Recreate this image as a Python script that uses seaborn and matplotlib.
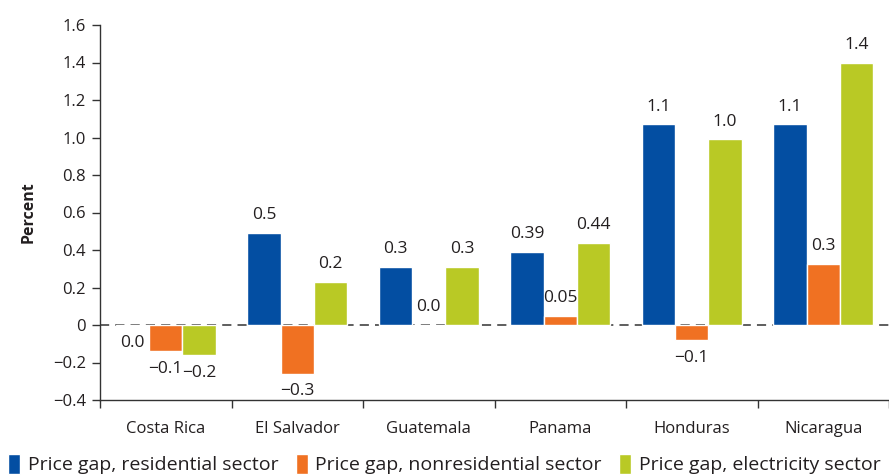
import matplotlib
matplotlib.use("Agg")
import matplotlib.pyplot as plt
import seaborn as sns
import pandas as pd
from matplotlib.ticker import FixedLocator, NullFormatter

countries = ["Costa Rica", "El Salvador", "Guatemala", "Panama", "Honduras", "Nicaragua"]
series_names = ["Price gap, residential sector", "Price gap, nonresidential sector",
                "Price gap, electricity sector"]
residential = [-0.003, 0.49, 0.31, 0.39, 1.07, 1.07]
nonresidential = [-0.14, -0.26, 0.0, 0.05, -0.08, 0.325]
electricity = [-0.16, 0.23, 0.31, 0.44, 0.99, 1.40]
res_labels = ["0.0", "0.5", "0.3", "0.39", "1.1", "1.1"]
nonres_labels = ["\u22120.1", "\u22120.3", "0.0", "0.05", "\u22120.1", "0.3"]
elec_labels = ["\u22120.2", "0.2", "0.3", "0.44", "1.0", "1.4"]
yticks = [-0.4, -0.2, 0, 0.2, 0.4, 0.6, 0.8, 1.0, 1.2, 1.4, 1.6]
ytick_labels = ["\u22120.4", "\u22120.2", "0", "0.2", "0.4", "0.6", "0.8", "1.0", "1.2", "1.4", "1.6"]
colors = ["#034EA2", "#F07122", "#B9C925"]

df = pd.DataFrame({
    "Country": countries * 3,
    "Series": [series_names[0]] * 6 + [series_names[1]] * 6 + [series_names[2]] * 6,
    "Value": residential + nonresidential + electricity,
})

sns.set_style("white")
plt.rcParams["font.family"] = ["Open Sans", "DejaVu Sans"]
text_color = "#231F20"

fig = plt.figure(figsize=(8.89, 4.76), dpi=100)
ax = fig.add_axes([100 / 889, 76 / 476, 789 / 889, 375 / 476])

sns.barplot(data=df, x="Country", y="Value", hue="Series", order=countries,
            hue_order=series_names, palette=colors, width=0.76, saturation=1,
            errorbar=None, ax=ax, legend=True)

for cont, labs in zip(ax.containers, [res_labels, nonres_labels, elec_labels]):
    ax.bar_label(cont, labels=labs, padding=7, fontsize=12.5, color=text_color)

ax.axhline(0, color="#333333", lw=1.1, ls=(0, (6, 4)), zorder=0.5)

ax.set_ylim(-0.4, 1.6)
ax.set_xlim(-0.5, 5.5)
ax.set_yticks(yticks)
ax.set_yticklabels(ytick_labels, fontsize=12, color=text_color)
ax.tick_params(axis="y", direction="out", length=6, width=1, color="#333333", pad=4, left=True)
ax.xaxis.set_major_locator(FixedLocator(range(len(countries))))
ax.set_xticklabels(countries, fontsize=12, color=text_color)
ax.tick_params(axis="x", which="major", length=0, pad=15)
ax.xaxis.set_minor_locator(FixedLocator([i + 0.5 for i in range(-1, len(countries))]))
ax.xaxis.set_minor_formatter(NullFormatter())
ax.tick_params(axis="x", which="minor", direction="out", length=6, width=1, color="#333333", bottom=True)

for s in ["top", "right"]:
    ax.spines[s].set_visible(False)
for s in ["left", "bottom"]:
    ax.spines[s].set_color("#333333")
    ax.spines[s].set_linewidth(1)

ax.set_xlabel("")
ax.set_ylabel("Percent", fontsize=11.5, fontweight="bold", color=text_color, labelpad=12)

handles, labels = ax.get_legend_handles_labels()
ax.get_legend().remove()
fig.legend(handles, labels, loc="center", bbox_to_anchor=(0.5, 12 / 476), ncol=3,
           frameon=False, fontsize=14, handlelength=0.6, handleheight=1.2,
           handletextpad=0.4, columnspacing=0.9, labelcolor=text_color,
           borderaxespad=0, borderpad=0)

fig.savefig("out.png", dpi=100)
